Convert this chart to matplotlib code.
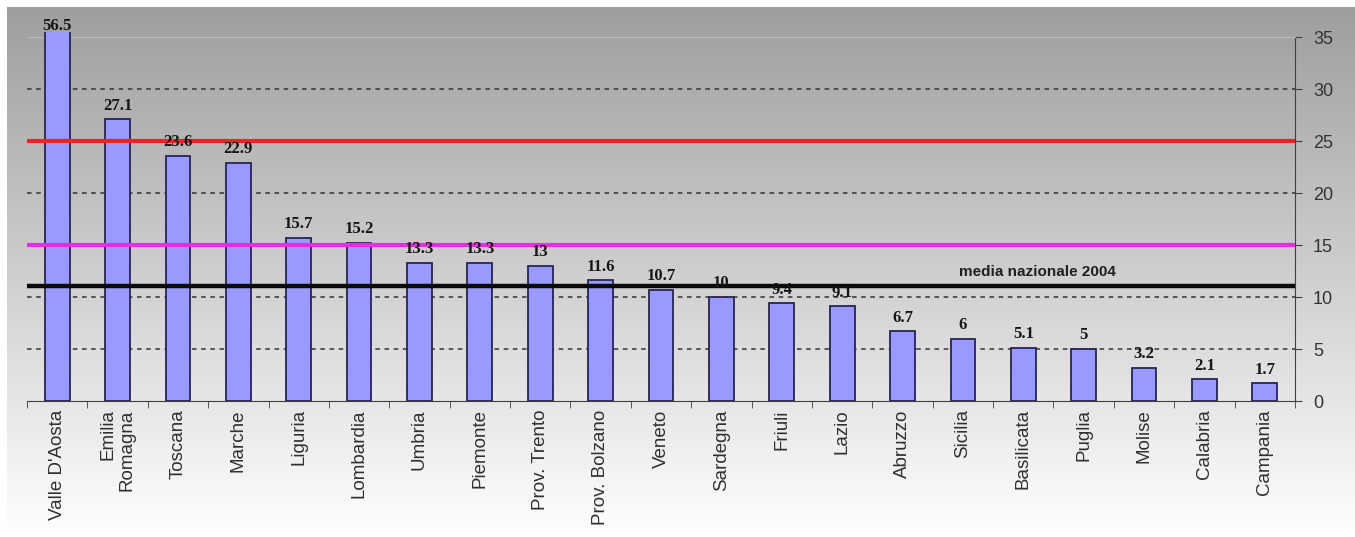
import numpy as np
from matplotlib import pyplot as plt
from matplotlib.patches import Rectangle

regioni = ["Valle D'Aosta", "Emilia\nRomagna", "Toscana", "Marche", "Liguria", "Lombardia",
           "Umbria", "Piemonte", "Prov. Trento", "Prov. Bolzano", "Veneto", "Sardegna",
           "Friuli", "Lazio", "Abruzzo", "Sicilia", "Basilicata", "Puglia", "Molise",
           "Calabria", "Campania"]
valori = [56.5, 27.1, 23.6, 22.9, 15.7, 15.2, 13.3, 13.3, 13, 11.6, 10.7, 10,
          9.4, 9.1, 6.7, 6, 5.1, 5, 3.2, 2.1, 1.7]
valori_etichetta = ["56.5", "27.1", "23.6", "22.9", "15.7", "15.2", "13.3", "13.3", "13", "11.6",
                    "10.7", "10", "9.4", "9.1", "6.7", "6", "5.1", "5", "3.2", "2.1", "1.7"]
media_nazionale = 11.1
soglia_alta = 25
soglia_media = 15
y_ticks = [0, 5, 10, 15, 20, 25, 30, 35]
y_max = 35

W, H = 1355, 537
fig = plt.figure(figsize=(W / 100, H / 100), dpi=100)
fig.patch.set_facecolor("white")

# gray gradient background
bg = fig.add_axes([7 / W, 0, 1 - 7 / W, 1 - 7 / H], zorder=-1)
grad = np.linspace(0.62, 1.0, 256).reshape(-1, 1)
bg.imshow(np.dstack([grad, grad, grad]), aspect="auto", extent=(0, 1, 0, 1), origin="upper")
bg.axis("off")

ax = fig.add_axes([27 / W, 1 - 401 / H, (1295 - 27) / W, (401 - 37) / H])
ax.set_facecolor("none")

x = np.arange(len(regioni))
bars = ax.bar(x, valori, width=0.41, color="#9999ff", edgecolor="#262650", linewidth=1.3, zorder=3)
top_clip = y_max + 0.45
clip = Rectangle((-0.5, 0), len(regioni), top_clip, transform=ax.transData)
for b in bars:
    b.set_clip_path(clip)

for xi, v, lab in zip(x, valori, valori_etichetta):
    off = 4 if v <= y_max else -1
    ax.annotate(lab, (xi, min(v, top_clip)), xytext=(0, off), textcoords="offset points",
                ha="center", va="bottom", fontsize=12, fontweight="bold",
                family="Liberation Serif", color="#151515", zorder=6, annotation_clip=False)

for gy in [5, 10, 20, 30]:
    ax.axhline(gy, color="#333333", linestyle=(0, (3, 3)), linewidth=1.1, zorder=1)

ax.axhline(soglia_alta, color="#e52626", linewidth=3, zorder=4)
ax.axhline(soglia_media, color="#e030e0", linewidth=3, zorder=4)
ax.axhline(media_nazionale, color="#0a0a0a", linewidth=3.2, zorder=4)
ax.text(14.93, media_nazionale + 0.6, "media nazionale 2004", fontsize=11, fontweight="bold",
        family="Liberation Sans", color="#202020", ha="left", va="bottom", zorder=5)

ax.set_xlim(-0.5, len(regioni) - 0.5)
ax.set_ylim(0, y_max)

ax.set_xticks(x)
ax.set_xticklabels(regioni, rotation=90, fontsize=13.5, family="Liberation Sans",
                   color="#303030", multialignment="right")
ax.tick_params(axis="x", which="major", length=0, pad=6)
ax.set_xticks(np.arange(-0.5, len(regioni), 1), minor=True)
ax.tick_params(axis="x", which="minor", length=5, direction="out", color="#404040")

ax.yaxis.tick_right()
ax.set_yticks(y_ticks)
ax.tick_params(axis="y", length=5, direction="out", pad=8, labelsize=13,
               labelcolor="#333333", color="#404040")
for t in ax.get_yticklabels():
    t.set_family("Liberation Sans")

ax.spines["left"].set_visible(False)
ax.spines["top"].set_color("#b8b8b8")
ax.spines["right"].set_color("#404040")
ax.spines["bottom"].set_color("#404040")

fig.savefig("out.png", dpi=100)
